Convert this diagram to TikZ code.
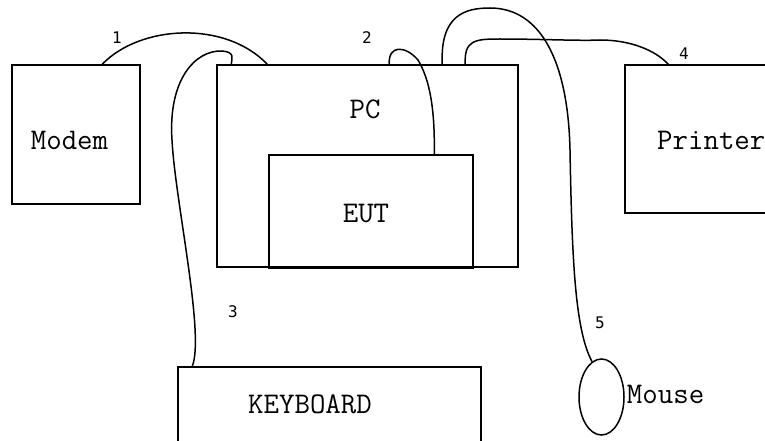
\documentclass[tikz,border=0pt]{standalone}
\usepackage{fontspec}
\newfontfamily\numfont{DejaVu Sans Mono}
\usetikzlibrary{positioning, shapes.geometric}

\begin{document}
\begin{tikzpicture}[
  x=1pt, y=-1pt,
  box/.style={rectangle, draw, line width=1.5pt},
  txt/.style={inner sep=0pt, font=\ttfamily\fontsize{30}{34}\selectfont},
  num/.style={inner sep=0pt, font=\numfont\fontsize{16}{18}\selectfont},
  cable/.style={line width=1.5pt}
]
\useasboundingbox (0,0) rectangle (765,441);
\clip (0,0) rectangle (765,441);
% equipment
\node[box, minimum width=128, minimum height=139] (modem) at (76,134.5) {};
\node[txt] (modemlbl) at (69.5,140) {Modem};
\node[box, minimum width=301, minimum height=202] (pc) at (367.5,166) {};
\node[txt] (pclbl) at (365,109) {PC};
\node[box, minimum width=204, minimum height=113] (eut) at (371,211.5) {};
\node[txt] (eutlbl) at (366,213.5) {EUT};
\node[box, minimum width=182, minimum height=148] (printer) at (716,139) {};
\node[txt, anchor=west] (printerlbl) at (657,140) {Printer};
\node[box, minimum width=303, minimum height=78] (kbd) at (329.5,406) {};
\node[txt] (kbdlbl) at (310,404) {KEYBOARD};
\node[draw, ellipse, line width=1.5pt, minimum width=45, minimum height=76, inner sep=0pt] (mouse) at (601.5,397) {};
\node[txt, right=2pt of mouse, yshift=3pt] (mouselbl) {Mouse};
% cable ports
\coordinate (m1) at ([xshift=91pt]modem.north west);
\coordinate (p1) at ([xshift=51pt]pc.north west);
\coordinate (p3) at ([xshift=15pt]pc.north west);
\coordinate (p2) at ([xshift=173pt]pc.north west);
\coordinate (p5) at ([xshift=226pt]pc.north west);
\coordinate (p4) at ([xshift=249pt]pc.north west);
\coordinate (e2) at ([xshift=166pt]eut.north west);
\coordinate (k3) at ([xshift=15pt]kbd.north west);
\coordinate (r4) at ([xshift=44pt]printer.north west);
% cables
\draw[cable] (m1) .. controls (140,25) and (225,20) .. (p1);
\draw[cable] (p2) .. controls (388,45) and (405,45) .. (418,60) .. controls (430,80) and (435,110) .. (e2);
\draw[cable] (k3) .. controls (205,335) and (175,200) .. (172,140) .. controls (168,80) and (195,50) .. (222,51) .. controls (235,52) and (232,58) .. (p3);
\draw[cable] (p4) .. controls (464,40) and (475,39) .. (500,39) .. controls (540,39) and (580,41) .. (600,40) .. controls (630,40) and (655,50) .. (r4);
\draw[cable] (p5) .. controls (440,15) and (465,8) .. (490,8) .. controls (540,8) and (568,60) .. (570,150) .. controls (572,260) and (575,330) .. (mouse.105);
% cable numbers
\node[num] (n1) at (117,38) {1};
\node[num] (n2) at (367,38) {2};
\node[num] (n3) at (233,312) {3};
\node[num] (n4) at (684,54) {4};
\node[num] (n5) at (600,323) {5};
\end{tikzpicture}
\end{document}
